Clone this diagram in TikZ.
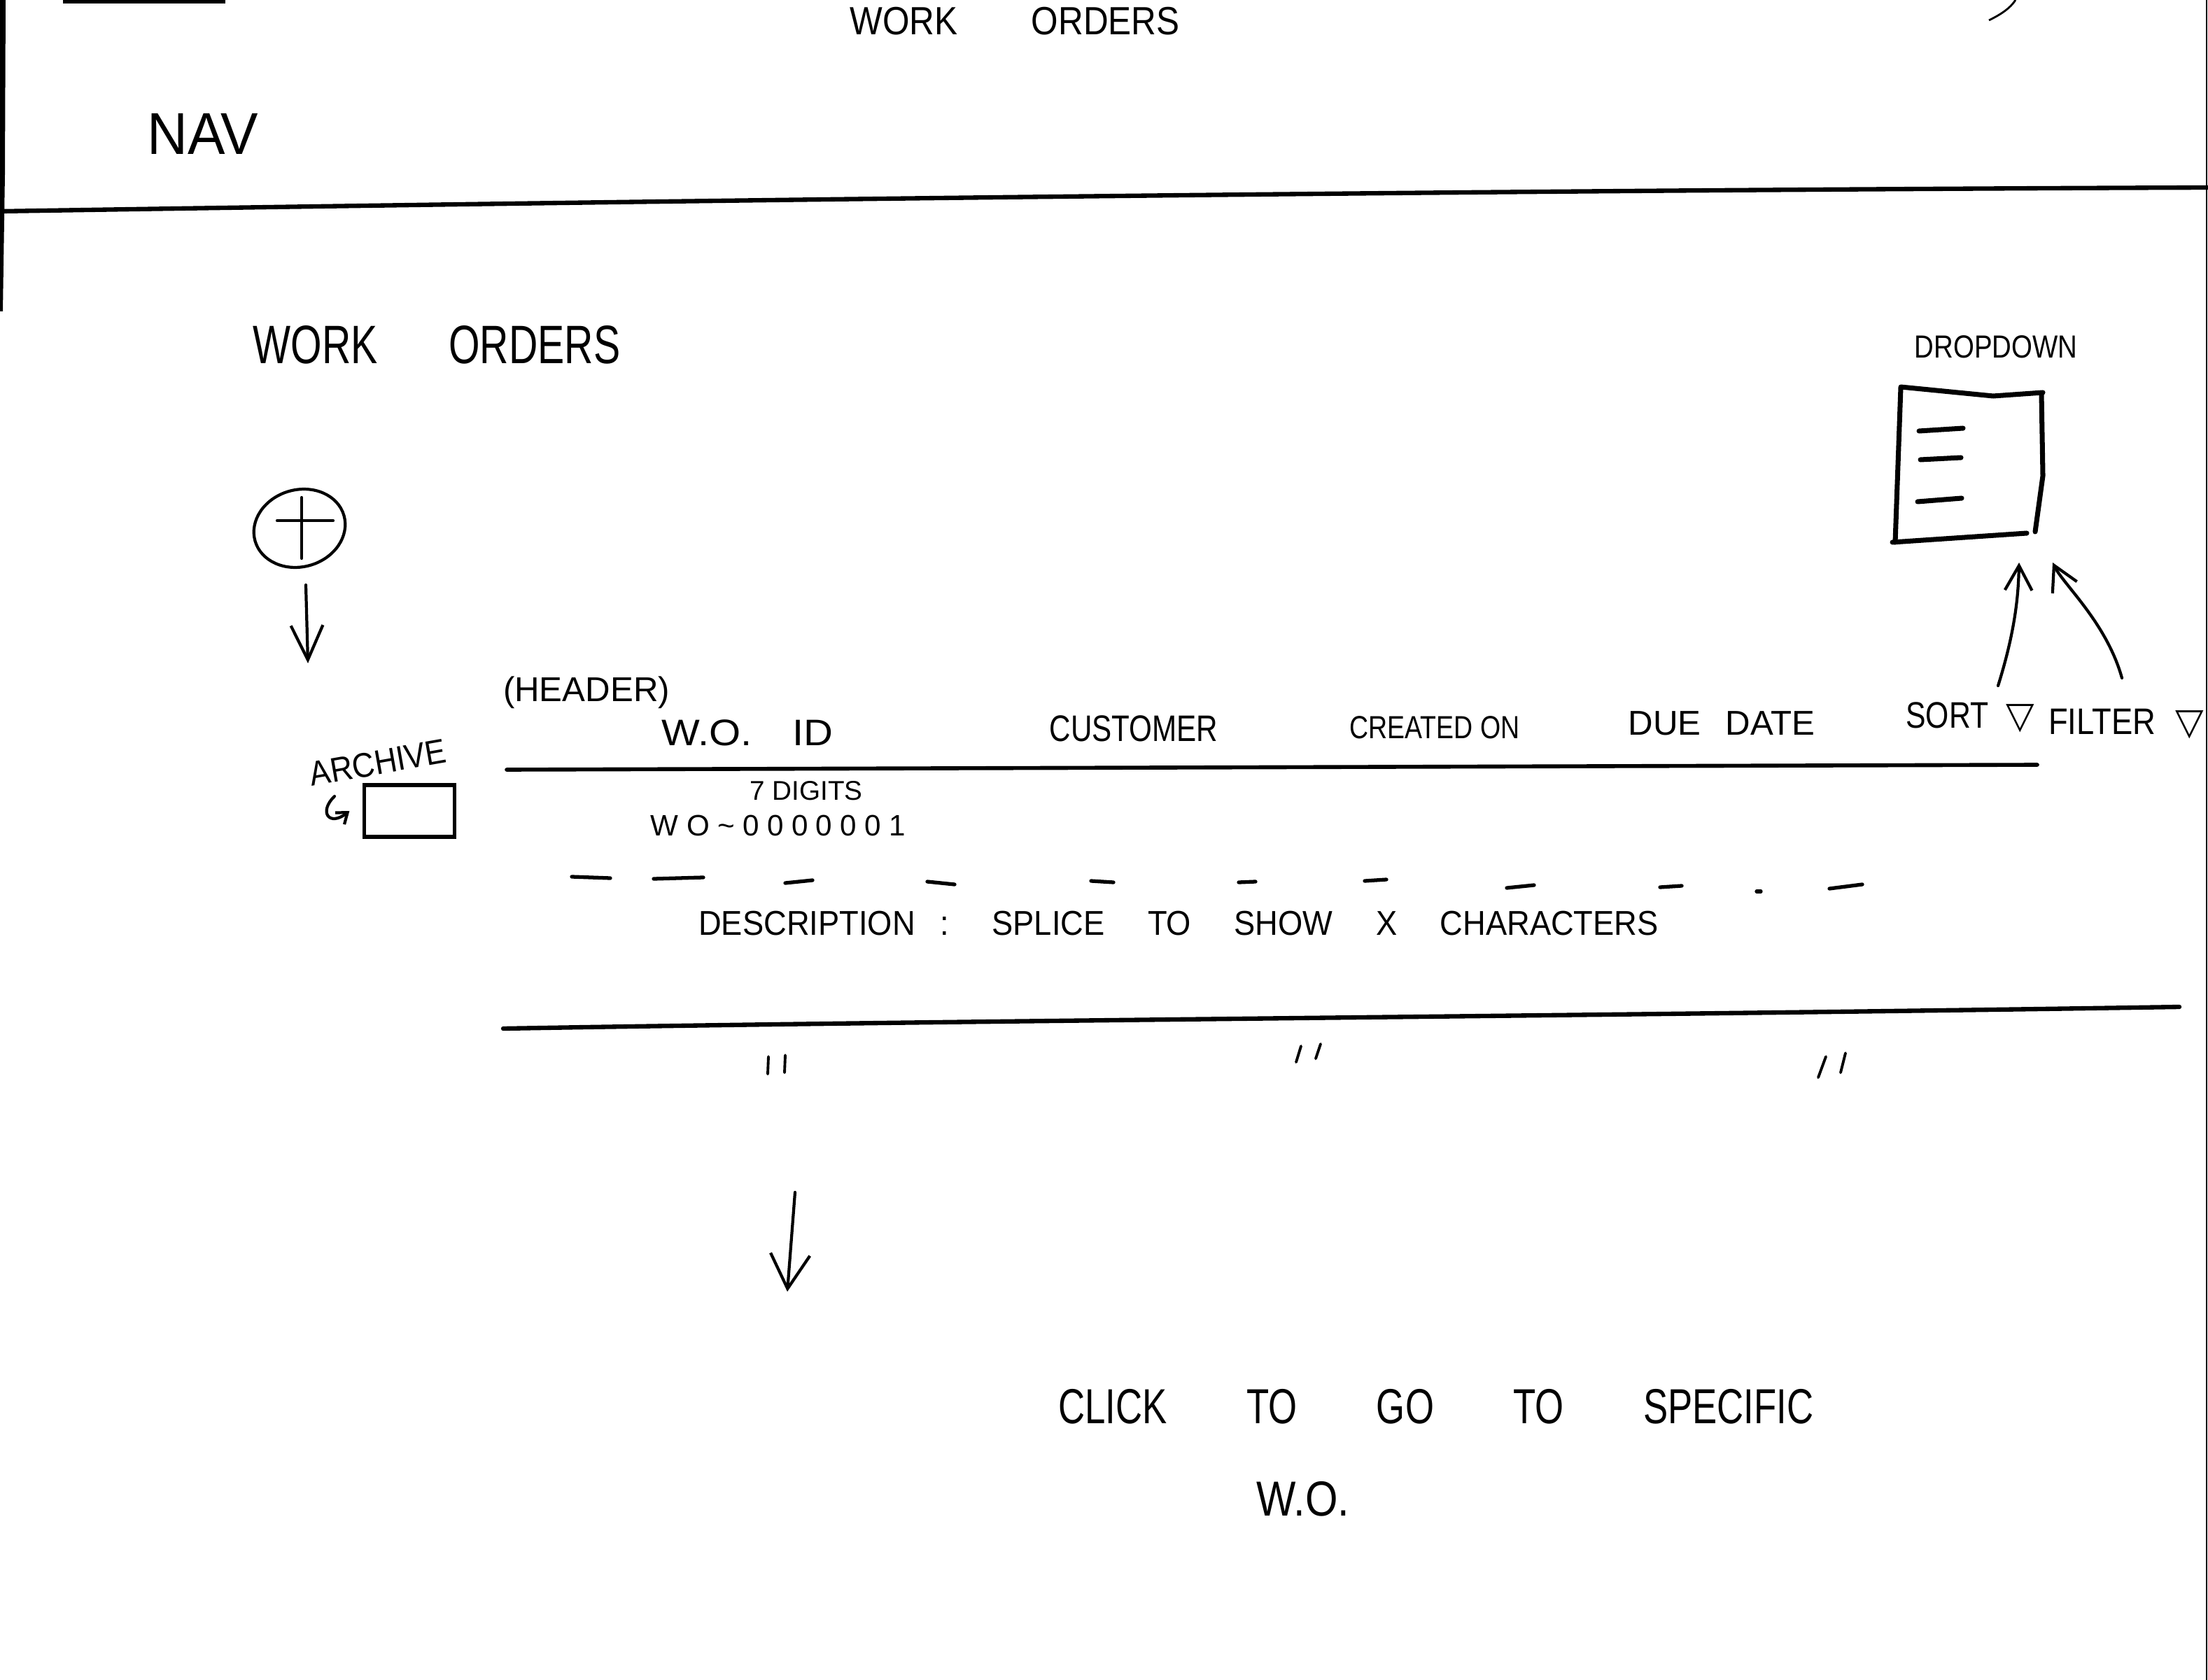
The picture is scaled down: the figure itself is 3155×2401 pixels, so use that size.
\documentclass[tikz,border=0pt]{standalone}
\usepackage{fontspec}
\usepackage{graphicx}
\setmainfont{Liberation Sans}
\newfontfamily\dvsym{DejaVu Sans}
\usetikzlibrary{arrows.meta,shapes.geometric}
\newcommand{\hfs}[1]{\fontsize{#1}{#1}\selectfont}
\begin{document}
\begin{tikzpicture}[x=0.01cm,y=-0.01cm,
  every node/.style={inner sep=0pt,outer sep=0pt,text=black},
  pen/.style={line width=1.2pt,line cap=round,line join=round},
  boldpen/.style={line width=2pt,line cap=round,line join=round},
  rule/.style={line width=1.6pt,line cap=round},
  thinpen/.style={line width=1.1pt,line cap=round},
  vtip/.style={-{Straight Barb[length=14pt,width=13pt]}},
  smalltip/.style={-{Straight Barb[length=10pt,width=11pt]}},
  hooktip/.style={-{Straight Barb[length=4pt,width=6pt]}}]
\fill[white] (0,0) rectangle (3155,2401);
\useasboundingbox (0,0) rectangle (3155,2401);

% page edges
\fill[black] (0,0) -- (8,0) -- (7,250) -- (4,445) -- (0,445) -- cycle;
\draw[line width=0.6pt] (3153,0) -- (3153,2401);
\draw[line width=1.5pt] (90,2) -- (322,2);
\draw[line width=0.8pt] (2842,29) .. controls (2860,20) and (2872,12) .. (2880,0);

% top bar
\node (title) at (1450,30) {\hfs{16}\scalebox{0.88}[1]{WORK\hspace{34pt}ORDERS}};
\node (nav) at (290,191) {\hfs{24}\scalebox{0.95}[1]{NAV}};
\draw[line width=1.8pt,line cap=round] (0,302) .. controls (1000,286) and (2100,272) .. (3155,268);

% heading
\node (heading) at (624,493) {\hfs{22}\scalebox{0.74}[1]{WORK\hspace{39pt}ORDERS}};

% add button
\node[draw,ellipse,rotate=16,minimum width=1.32cm,minimum height=1.1cm,pen] (plus) at (428,755) {};
\draw[pen] (396,744) -- (476,744);
\draw[pen] (431,711) -- (431,798);
\coordinate (plusA) at (437,836);
\coordinate (plusB) at (440,948);
\draw[pen,vtip] (plusA) -- (plusB);

% archive
\node[rotate=10] (archlbl) at (540,1090) {\hfs{14}\scalebox{0.9}[1]{ARCHIVE}};
\node[draw,line width=1.5pt,minimum width=1.29cm,minimum height=0.74cm] (archbox) at (585,1159) {};
\coordinate (hook) at (478,1138);
\draw[pen,hooktip] (hook) .. controls (455,1160) and (470,1182) .. ([xshift=-6pt]archbox.west);

% header
\node (hdrnote) at (838,990) {\hfs{14}(HEADER)};
\node (woid) at (1068,1047) {\hfs{15}\scalebox{1.1}[1]{W.O.\hspace{15pt}ID}};
\node (cust) at (1620,1041) {\hfs{15}\scalebox{0.8}[1]{CUSTOMER}};
\node (created) at (2050,1040) {\hfs{13}\scalebox{0.82}[1]{CREATED ON}};
\node (due) at (2460,1034) {\hfs{14}DUE\hspace{10pt}DATE};
\node (sort) at (2815,1025) {\hfs{15}\scalebox{0.81}[1]{SORT}\hspace{7pt}{\dvsym ▽}};
\node (filter) at (3038,1035) {\hfs{15}\scalebox{0.86}[1]{FILTER}\hspace{8pt}{\dvsym ▽}};
\draw[rule] (724,1100) -- (2911,1093);

% first row
\node (digits) at (1152,1130) {\hfs{11}7 DIGITS};
\node (woex) at (1112,1180) {\hfs{12}\addfontfeature{LetterSpace=27}WO\textasciitilde0000001};
\foreach \a/\b/\c/\d in {817/1253/872/1255, 934/1256/1005/1254, 1122/1262/1161/1258,
  1325/1260/1364/1264, 1559/1259/1591/1261, 1770/1261/1794/1260, 1950/1259/1981/1257,
  2153/1269/2192/1265, 2372/1268/2403/1266, 2510/1274/2516/1274, 2614/1270/2661/1264}
  \draw[line width=1.5pt,line cap=round] (\a,\b) -- (\c,\d);
\node (desc) at (1684,1320) {\hfs{14}\scalebox{0.92}[1]{DESCRIPTION\hspace{11pt}:\hspace{19pt}SPLICE\hspace{19pt}TO\hspace{19pt}SHOW\hspace{19pt}X\hspace{19pt}CHARACTERS}};
\draw[line width=1.8pt,line cap=round] (719,1470) .. controls (1400,1458) and (2300,1452) .. (3114,1439);

% ditto marks
\draw[thinpen] (1098,1510) -- (1097,1535);
\draw[thinpen] (1122,1508) -- (1121,1533);
\draw[thinpen] (1859,1495) -- (1852,1518);
\draw[thinpen] (1887,1492) -- (1880,1513);
\draw[thinpen] (2609,1510) -- (2598,1540);
\draw[thinpen] (2637,1505) -- (2630,1533);

% click arrow
\coordinate (clickA) at (1136,1704);
\coordinate (clickB) at (1125,1846);
\draw[pen,-{Straight Barb[length=14pt,width=16pt]}] (clickA) -- (clickB);
\node (click) at (2052,2010) {\hfs{20}\scalebox{0.75}[1]{CLICK\hspace{43pt}TO\hspace{43pt}GO\hspace{43pt}TO\hspace{43pt}SPECIFIC}};
\node (wo) at (1862,2142) {\hfs{20}\scalebox{0.85}[1]{W.O.}};

% dropdown
\node (ddlbl) at (2852,496) {\hfs{13}\scalebox{0.84}[1]{DROPDOWN}};
\node[minimum width=2.1cm,minimum height=2.2cm] (dd) at (2812,662) {};
\draw[boldpen] (2708,775) -- (2716,553) -- (2848,566) -- (2919,561);
\draw[boldpen] (2917,563) -- (2919,680) -- (2908,760);
\draw[boldpen] (2704,775) -- (2896,762);
\draw[boldpen] (2742,616) -- (2805,612);
\draw[boldpen] (2744,657) -- (2802,654);
\draw[boldpen] (2740,717) -- (2803,712);
\coordinate (ddA) at (2885,804);
\coordinate (ddB) at (2933,804);
\coordinate (sortA) at (2855,980);
\coordinate (filterB) at (3032,969);
\draw[pen,smalltip] (sortA) .. controls (2880,900) and (2884,850) .. (ddA);
\draw[pen,smalltip] (filterB) .. controls (3010,890) and (2948,835) .. (ddB);
\end{tikzpicture}
\end{document}
